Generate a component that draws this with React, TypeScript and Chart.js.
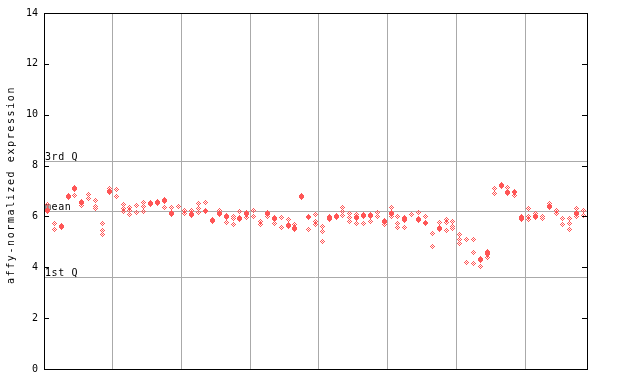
import { useEffect, useRef } from 'react';
import { Chart, registerables } from 'chart.js';
Chart.register(...registerables);

// ---- data ----
const columnCount = 79;
const sectionBreaks = [0, 10, 20, 30, 40, 50, 60, 70, 79];
const yTickValues = [0, 2, 4, 6, 8, 10, 12, 14];
const refLabels = ['3rd Q', 'mean', '1st Q'];
const refValues = [8.19, 6.21, 3.61];
const yTitle = 'affy-normalized expression';

const filledValues: number[][] = [
  [6.22], [], [5.62], [6.77], [7.11], [6.56], [], [], [], [6.98],
  [], [], [], [], [], [6.52], [6.56], [6.64], [6.12], [],
  [], [6.07], [], [], [5.84], [6.10], [6.01], [], [5.93], [6.12],
  [], [], [6.10], [5.91], [], [5.65], [5.52], [6.77], [], [],
  [], [5.94], [6.01], [], [], [5.97], [6.05], [6.05], [], [5.81],
  [6.11], [], [5.88], [], [5.88], [], [], [5.52], [], [],
  [], [], [], [4.32], [4.53], [], [7.22], [6.95], [], [5.94],
  [], [6.01], [], [6.40], [], [], [], [6.11], [],
];

const hatchedValues: number[][] = [
  [6.48], [5.74, 5.47], [5.55], [], [6.82], [6.44], [6.85, 6.72], [6.62, 6.41, 6.31], [5.73, 5.46, 5.27], [7.08],
  [7.06, 6.77], [6.47, 6.31, 6.18], [6.34, 6.22, 6.08], [6.43, 6.14], [6.56, 6.40, 6.20], [], [], [6.34], [6.34], [6.38],
  [6.24, 6.10], [6.25], [6.49, 6.30, 6.17], [6.53, 6.23, 6.19], [], [6.22], [5.77], [6.01, 5.90, 5.67], [6.20], [5.94],
  [6.23, 5.98], [5.81, 5.68], [6.16, 5.98], [5.74], [5.94, 5.55], [5.88], [5.68], [], [6.00, 5.94, 5.47], [6.07, 5.81, 5.68],
  [5.59, 5.42, 5.01], [5.88], [], [6.34, 6.18, 6.03], [6.11, 5.97, 5.81], [6.07, 5.74], [5.72], [5.82], [6.14, 6.00], [5.68],
  [6.34, 6.01], [5.98, 5.74, 5.55], [5.97, 5.55], [6.07], [6.14], [5.98, 5.78, 5.71], [5.31, 4.82], [5.78], [5.88, 5.78, 5.43], [5.81, 5.59, 5.51],
  [5.27, 5.11, 4.93], [5.11, 4.17], [5.11, 4.60, 4.13], [4.05], [4.64, 4.38], [7.08, 6.92], [], [7.12], [6.99, 6.93, 6.83], [5.86],
  [6.30, 6.01, 5.88], [6.11], [6.01, 5.91], [6.51], [6.24, 6.11], [5.90, 5.67], [5.90, 5.74, 5.48], [6.30, 6.01], [6.23, 6.03],
];

const RED = '#ff5555';

function makeFilled(): HTMLCanvasElement {
  const c = document.createElement('canvas');
  c.width = 5; c.height = 7;
  const ctx = c.getContext('2d')!;
  ctx.fillStyle = RED;
  const rows = [[2, 1], [1, 3], [0, 5], [0, 5], [0, 5], [1, 3], [2, 1]];
  rows.forEach(([s, w], r) => ctx.fillRect(s, r, w, 1));
  return c;
}

function makeHatched(): HTMLCanvasElement {
  const c = document.createElement('canvas');
  c.width = 5; c.height = 5;
  const ctx = c.getContext('2d')!;
  ctx.fillStyle = RED;
  for (let r = 0; r < 5; r++) {
    for (let col = 0; col < 5; col++) {
      if (Math.abs(r - 2) + Math.abs(col - 2) <= 2 && (r + col) % 2 === 0) ctx.fillRect(col, r, 1, 1);
    }
  }
  return c;
}

function toPoints(values: number[][]) {
  const pts: { x: number; y: number }[] = [];
  values.forEach((vals, i) => vals.forEach((v) => pts.push({ x: i + 0.5, y: v })));
  return pts;
}

const overlayPlugin = {
  id: 'overlay',
  beforeDatasetsDraw(chart: any) {
    const { ctx, chartArea, scales } = chart;
    const { left, right } = chartArea;
    const y = scales.y;
    ctx.save();
    ctx.strokeStyle = '#aaaaaa';
    ctx.lineWidth = 1;
    refValues.forEach((v, i) => {
      const py = Math.round(y.getPixelForValue(v)) + 0.5;
      ctx.beginPath();
      ctx.moveTo(left, py);
      ctx.lineTo(right, py);
      ctx.stroke();
      ctx.fillStyle = '#000';
      ctx.font = '10px "DejaVu Sans Mono"';
      (ctx as any).letterSpacing = '0.6px';
      ctx.textAlign = 'left';
      ctx.textBaseline = 'alphabetic';
      ctx.fillText(refLabels[i], left + 1, py - 1.5);
    });
    ctx.restore();
    ctx.imageSmoothingEnabled = false;
  },
  afterDatasetsDraw(chart: any) {
    const { ctx, chartArea, scales } = chart;
    const { left, right, top, bottom } = chartArea;
    ctx.imageSmoothingEnabled = true;
    ctx.save();
    ctx.strokeStyle = '#000';
    ctx.lineWidth = 1;
    ctx.strokeRect(left + 0.5, top + 0.5, right - left, bottom - top);
    yTickValues.forEach((v) => {
      const py = Math.round(scales.y.getPixelForValue(v)) + 0.5;
      ctx.beginPath();
      ctx.moveTo(left, py);
      ctx.lineTo(left + 5, py);
      ctx.moveTo(right - 5, py);
      ctx.lineTo(right + 1, py);
      ctx.stroke();
    });
    ctx.restore();
  },
  afterDraw(chart: any) {
    const { ctx } = chart;
    ctx.save();
    ctx.translate(11, 185);
    ctx.rotate(-Math.PI / 2);
    ctx.fillStyle = '#000';
    ctx.font = '10px "DejaVu Sans Mono"';
    (ctx as any).letterSpacing = '1.6px';
    ctx.textAlign = 'center';
    ctx.textBaseline = 'middle';
    ctx.fillText(yTitle, 0, 0);
    ctx.restore();
  },
};

export default function App() {
  const ref = useRef<HTMLCanvasElement | null>(null);
  useEffect(() => {
    document.body.style.margin = '0';
    const canvas = ref.current!;
    const filledImg = makeFilled();
    const hatchedImg = makeHatched();
    const chart = new Chart(canvas, {
      type: 'scatter',
      data: {
        datasets: [
          {
            label: 'hatched',
            data: toPoints(hatchedValues),
            pointStyle: hatchedImg as any,
            pointRadius: 3,
            showLine: false,
          },
          {
            label: 'filled',
            data: toPoints(filledValues),
            pointStyle: filledImg as any,
            pointRadius: 3,
            showLine: false,
          },
        ],
      },
      options: {
        animation: false,
        responsive: false,
        devicePixelRatio: 1,
        layout: { padding: { left: 0, right: 53, top: 13, bottom: 15 } },
        plugins: { legend: { display: false }, tooltip: { enabled: false } },
        scales: {
          x: {
            type: 'linear',
            min: 0,
            max: columnCount,
            border: { display: false },
            grid: { color: '#aaaaaa', lineWidth: 1, drawTicks: false },
            ticks: { display: false },
            afterBuildTicks: (scale: any) => {
              scale.ticks = sectionBreaks.map((v) => ({ value: v }));
            },
            afterFit: (scale: any) => {
              scale.height = 0;
            },
          },
          y: {
            type: 'linear',
            min: 0,
            max: 14,
            border: { display: false },
            grid: { display: false, drawTicks: false },
            ticks: {
              stepSize: 2,
              padding: 6,
              color: '#000',
              font: { family: '"DejaVu Sans Mono"', size: 10 },
            },
            afterBuildTicks: (scale: any) => {
              scale.ticks = yTickValues.map((v) => ({ value: v }));
            },
            afterFit: (scale: any) => {
              scale.width = 44;
            },
          },
        },
      },
      plugins: [overlayPlugin],
    });
    return () => chart.destroy();
  }, []);
  return (
    <div style={{ position: 'absolute', left: 0, top: 0, width: 640, height: 384 }}>
      <canvas ref={ref} width={640} height={384} />
    </div>
  );
}
